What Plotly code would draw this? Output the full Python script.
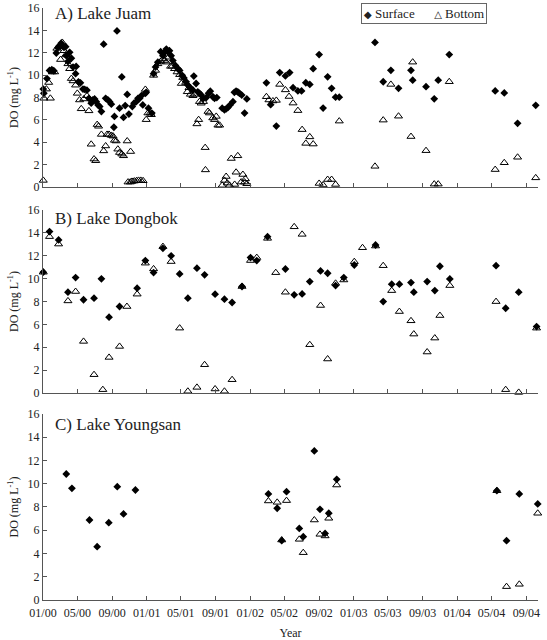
import plotly.graph_objects as go

# ---------------- DATA ----------------
juam_surf_date = [
    "2000-01-02","2000-01-04","2000-01-15","2000-01-24","2000-02-01","2000-02-08","2000-02-17","2000-02-23","2000-02-28",
    "2000-03-05","2000-03-09","2000-03-15","2000-03-21","2000-03-23","2000-03-29","2000-04-04","2000-04-10","2000-04-16",
    "2000-04-25","2000-04-27","2000-05-05","2000-05-12","2000-05-21","2000-05-27","2000-06-04","2000-06-11","2000-06-19",
    "2000-06-25","2000-07-01","2000-07-07","2000-07-13","2000-07-19","2000-07-25","2000-08-02","2000-08-09","2000-08-17",
    "2000-08-23","2000-08-29","2000-09-07","2000-09-09","2000-09-18","2000-09-27","2000-10-05","2000-10-11","2000-10-17",
    "2000-10-24","2000-10-30","2000-11-11","2000-11-17","2000-11-25","2000-12-01","2000-12-07","2000-12-13","2000-12-18",
    "2000-12-27","2000-12-30","2001-01-07","2001-01-19",
    "2001-01-25","2001-02-01","2001-02-09","2001-02-19","2001-02-27","2001-03-05","2001-03-11","2001-03-16","2001-03-22",
    "2001-03-28","2001-04-03","2001-04-12","2001-04-21","2001-04-27","2001-05-06","2001-05-12","2001-05-20","2001-05-26",
    "2001-06-04","2001-06-13","2001-06-16","2001-06-24","2001-06-30","2001-07-06","2001-07-12","2001-07-20","2001-07-30",
    "2001-08-07","2001-08-13","2001-08-22","2001-08-28","2001-09-05","2001-09-24","2001-10-02","2001-10-08","2001-10-14",
    "2001-10-22","2001-11-01","2001-11-06","2001-11-12","2001-11-18","2001-11-24","2001-12-02","2001-12-12","2001-12-20",
    "2002-02-27","2002-03-14","2002-04-03","2002-04-15","2002-05-05","2002-05-20","2002-06-01","2002-06-18","2002-07-01",
    "2002-07-16","2002-07-30","2002-08-11","2002-09-01","2002-09-15","2002-10-01","2002-10-15","2002-10-29","2002-11-11",
    "2003-03-17","2003-04-15","2003-05-12","2003-06-08","2003-07-22","2003-07-28","2003-09-13","2003-10-12","2003-10-26",
    "2003-12-04",
    "2004-05-14","2004-06-15","2004-08-01","2004-10-04",
]
juam_surf_do = [
    8.75,8.37,9.69,10.42,10.48,10.39,11.98,12.48,12.62,
    12.86,12.68,12.48,12.54,11.74,11.22,12.04,11.51,10.72,
    10.13,10.78,9.40,9.31,8.75,8.72,8.66,7.93,7.49,
    7.78,7.87,7.63,7.34,7.19,6.75,12.77,7.93,7.78,
    7.63,7.40,5.34,6.31,13.95,7.05,9.84,6.22,7.28,
    8.28,6.52,7.19,7.49,7.63,7.93,7.93,8.16,7.34,
    8.37,8.46,7.05,6.61,
    10.13,10.72,11.16,12.10,11.74,12.04,12.33,12.10,12.18,
    11.74,11.30,10.86,10.57,10.42,9.98,9.75,9.40,9.10,
    8.87,8.66,9.92,9.25,8.51,8.37,8.22,7.93,7.99,
    8.37,8.57,8.07,7.93,7.99,7.05,6.90,6.99,7.10,
    7.34,7.63,8.46,8.57,8.51,8.37,8.22,6.61,7.87,
    9.31,7.36,5.45,10.23,9.93,10.23,8.88,8.59,8.59,
    9.32,9.17,10.58,11.84,7.06,9.85,8.82,8.03,8.03,
    12.92,9.41,10.43,8.82,10.43,9.55,8.97,7.88,9.55,
    11.84,
    8.59,8.41,5.69,7.30,
]
juam_bot_date = [
    "2000-01-02","2000-01-04","2000-01-13","2000-01-21","2000-01-27","2000-02-03","2000-02-11","2000-02-19","2000-02-26",
    "2000-03-03","2000-03-09","2000-03-15","2000-03-21","2000-03-29","2000-04-04","2000-04-10","2000-04-16","2000-04-25",
    "2000-05-01","2000-05-09","2000-05-15","2000-05-24","2000-06-04","2000-06-11","2000-06-19","2000-06-29","2000-07-05",
    "2000-07-10","2000-07-15","2000-07-25","2000-08-02","2000-08-09","2000-08-14","2000-08-21","2000-08-29","2000-09-04",
    "2000-09-09","2000-09-15","2000-09-21","2000-09-27","2000-10-05","2000-10-11","2000-10-24","2000-11-05",
    "2000-10-27","2000-11-04","2000-11-10","2000-11-18","2000-11-26","2000-12-03","2000-12-11","2000-12-19",
    "2000-12-27","2000-12-30","2001-01-05","2001-01-13","2001-01-17",
    "2001-01-25","2001-02-01","2001-02-09","2001-02-19","2001-02-27","2001-03-05","2001-03-11","2001-03-19","2001-03-26",
    "2001-04-01","2001-04-09","2001-04-18","2001-04-27","2001-05-03","2001-05-08","2001-05-18","2001-05-24","2001-05-30",
    "2001-06-04","2001-06-13","2001-06-19","2001-06-27","2001-07-03","2001-07-06","2001-07-12","2001-07-20","2001-07-26",
    "2001-07-27","2001-08-05","2001-08-10","2001-08-22","2001-08-28","2001-09-03","2001-09-09","2001-09-15","2001-09-24",
    "2001-10-02","2001-10-08","2001-10-12","2001-10-20","2001-10-26","2001-11-07","2001-11-12","2001-11-18","2001-11-30",
    "2001-12-06","2001-12-12","2001-12-15","2001-12-20",
    "2002-02-27","2002-03-08","2002-03-22","2002-04-03","2002-04-15","2002-05-05","2002-05-18","2002-06-01","2002-06-18",
    "2002-07-03","2002-07-16","2002-07-30","2002-08-11","2002-09-01","2002-09-15","2002-10-01","2002-10-15","2002-10-29",
    "2002-11-11",
    "2003-03-17","2003-04-15","2003-05-12","2003-06-08","2003-07-22","2003-07-28","2003-09-13","2003-10-12","2003-10-26",
    "2003-12-04",
    "2004-05-14","2004-06-15","2004-08-01","2004-10-04",
]
juam_bot_do = [
    0.59,7.93,8.75,9.34,7.93,10.28,10.28,12.39,12.54,
    11.39,12.92,12.18,11.80,11.01,10.57,9.69,9.48,9.10,
    8.37,7.78,6.99,7.87,8.16,6.81,3.82,2.50,2.35,
    5.58,5.43,4.70,3.23,3.67,4.70,4.70,4.61,4.55,
    4.17,4.11,3.38,3.08,2.94,2.79,4.11,3.17,
    0.44,0.44,0.50,0.53,0.56,0.59,0.59,0.56,
    8.72,6.02,6.61,6.61,6.46,
    9.98,10.42,11.01,11.22,11.45,11.30,11.16,11.60,10.78,
    10.80,10.57,10.28,10.04,9.25,9.78,9.34,8.51,8.87,
    8.28,8.16,8.28,5.64,6.02,7.63,7.49,7.63,3.52,
    1.53,6.75,6.61,6.17,6.02,6.31,5.52,5.52,0.15,
    0.59,0.94,0.35,0.15,2.55,0.23,1.32,2.79,0.44,
    1.12,0.44,0.73,0.29,
    8.07,7.78,7.69,7.74,9.17,8.68,8.09,7.50,6.83,
    5.13,3.90,4.48,3.84,0.32,0.18,0.67,0.67,0.23,
    5.89,
    1.85,5.98,9.17,6.33,4.51,11.16,3.25,0.26,0.26,
    9.41,
    1.56,2.17,2.66,0.82,
]

dongbok_surf_date = [
    "2000-01-02","2000-01-24","2000-02-25","2000-03-29","2000-04-25","2000-05-23","2000-06-29","2000-07-25","2000-08-21",
    "2000-09-27","2000-11-28","2000-12-27","2001-01-25","2001-02-27","2001-03-28","2001-04-27","2001-05-26","2001-06-27",
    "2001-07-24","2001-08-30","2001-10-02","2001-10-29","2001-12-03","2002-01-02","2002-01-24","2002-03-03","2002-05-05",
    "2002-06-05","2002-07-03","2002-07-30","2002-09-06","2002-10-01","2002-10-29","2002-11-27","2003-01-03","2003-03-19",
    "2003-04-15","2003-05-15","2003-06-11","2003-07-22","2003-08-01","2003-09-17","2003-10-14","2003-11-01","2003-12-06",
    "2004-05-17","2004-06-20","2004-08-05","2004-10-07",
]
dongbok_surf_do = [
    10.56,14.11,13.38,8.81,10.09,8.15,8.29,9.98,6.63,
    7.56,9.16,11.58,10.53,12.65,11.99,10.41,8.29,10.91,
    10.33,8.64,8.20,7.91,9.31,11.84,11.58,13.67,10.84,
    8.58,8.66,9.74,10.67,10.47,9.39,10.09,11.19,12.94,
    7.99,9.51,9.51,9.65,8.81,9.74,8.95,11.08,9.97,
    11.13,7.41,8.81,5.81,
]
dongbok_bot_date = [
    "2000-01-02","2000-01-24","2000-02-25","2000-03-29","2000-04-25","2000-05-23","2000-06-29","2000-07-30","2000-08-21",
    "2000-09-27","2000-10-23","2000-11-28","2000-12-27","2001-01-25","2001-02-27","2001-03-28","2001-04-27","2001-05-26",
    "2001-06-27","2001-07-24","2001-08-30","2001-10-02","2001-10-29","2001-12-03","2002-01-02","2002-01-24","2002-03-03",
    "2002-04-01","2002-05-05","2002-06-05","2002-07-03","2002-07-30","2002-09-06","2002-10-01","2002-10-29","2002-11-27",
    "2003-01-03","2003-02-01","2003-03-19","2003-04-15","2003-05-15","2003-06-11","2003-07-22","2003-08-01","2003-09-17",
    "2003-10-14","2003-11-01","2003-12-06","2004-05-17","2004-06-20","2004-08-05","2004-10-07",
]
dongbok_bot_do = [
    10.56,13.67,13.02,8.05,8.87,4.51,1.60,0.29,3.11,
    4.07,7.56,8.64,11.35,10.85,12.80,11.49,5.67,0.15,
    0.49,2.47,0.35,0.15,1.16,9.31,11.58,11.84,13.52,
    10.52,8.81,14.53,13.87,4.22,7.65,2.97,9.59,9.88,
    11.48,12.70,12.85,11.13,8.95,7.12,6.31,5.15,3.58,
    4.80,6.77,9.39,7.99,0.29,0.05,5.67,
]

youngsan_surf_date = [
    "2000-03-23","2000-04-12","2000-06-13","2000-07-10","2000-08-20","2000-09-19","2000-10-11","2000-11-22",
    "2002-03-06","2002-04-06","2002-04-22","2002-05-09","2002-06-23","2002-07-07","2002-08-15","2002-09-04",
    "2002-09-22","2002-10-05","2002-11-02","2004-05-20","2004-06-23","2004-08-07","2004-10-11",
]
youngsan_surf_do = [
    10.84,9.61,6.88,4.59,6.65,9.75,7.40,9.46,
    9.12,7.89,5.10,9.32,6.16,5.45,12.82,7.80,
    5.73,7.46,10.38,9.40,5.10,9.12,8.26,
]
youngsan_bot_date = [
    "2002-03-06","2002-04-06","2002-04-22","2002-05-09","2002-06-23","2002-07-07","2002-08-15","2002-09-04",
    "2002-09-22","2002-10-05","2002-11-02","2004-05-20","2004-06-23","2004-08-07","2004-10-11",
]
youngsan_bot_do = [
    8.52,8.40,5.16,8.55,5.22,4.07,6.88,5.65,
    5.51,7.03,9.89,9.40,1.15,1.35,7.46,
]

panel_titles = ["A) Lake Juam", "B) Lake Dongbok", "C) Lake Youngsan"]
series_names = ["Surface", "Bottom"]
legend_glyphs = ["\u25c6", "\u25b3"]
y_ticks = [0, 2, 4, 6, 8, 10, 12, 14, 16]
x_range = ["2000-01-01", "2004-10-12"]

# ---------------- FIGURE ----------------
FONT = "Liberation Serif, DejaVu Serif, serif"
AX = "#555555"
TXT = "#222222"

panels = [
    (juam_surf_date, juam_surf_do, juam_bot_date, juam_bot_do),
    (dongbok_surf_date, dongbok_surf_do, dongbok_bot_date, dongbok_bot_do),
    (youngsan_surf_date, youngsan_surf_do, youngsan_bot_date, youngsan_bot_do),
]

fig = go.Figure()
for i, (sd, sv, bd, bv) in enumerate(panels):
    xa = "x" if i == 0 else f"x{i+1}"
    ya = "y" if i == 0 else f"y{i+1}"
    fig.add_trace(go.Scatter(
        x=sd, y=sv, mode="markers", name=series_names[0], xaxis=xa, yaxis=ya,
        marker=dict(symbol="diamond", size=6, color="black"),
        showlegend=False, cliponaxis=False))
    fig.add_trace(go.Scatter(
        x=bd, y=bv, mode="markers", name=series_names[1], xaxis=xa, yaxis=ya,
        marker=dict(symbol="triangle-up-open", size=7, color="black", line=dict(width=1)),
        showlegend=False, cliponaxis=False))

# domains in paper fraction (plot area 8..600 px of 640)
y_domains = [[0.6976, 1.0], [0.3497, 0.6588], [0.0, 0.3142]]

layout = dict(
    width=547, height=640,
    margin=dict(l=43, r=9, t=8, b=40, autoexpand=False),
    paper_bgcolor="white", plot_bgcolor="white",
    font=dict(family=FONT, size=12, color=TXT),
    showlegend=False,
)
for i in range(3):
    xk = "xaxis" if i == 0 else f"xaxis{i+1}"
    yk = "yaxis" if i == 0 else f"yaxis{i+1}"
    ya = "y" if i == 0 else f"y{i+1}"
    xa = "x" if i == 0 else f"x{i+1}"
    layout[xk] = dict(
        domain=[0, 1], anchor=ya, type="date", range=x_range, automargin=False,
        tick0="2000-01-01", dtick="M4", tickformat="%m/%y", ticklabeloverflow="allow",
        ticks="inside", ticklen=4, tickcolor=AX,
        showticklabels=(i == 2), showline=True, linecolor=AX, linewidth=1,
        showgrid=False, zeroline=False,
        tickfont=dict(family=FONT, size=12, color=TXT),
    )
    if i != 0:
        layout[xk]["matches"] = "x"
    layout[yk] = dict(
        domain=y_domains[i], anchor=xa, range=[0, 16], tickvals=y_ticks, automargin=False,
        ticklabeloverflow="allow",
        ticks="inside", ticklen=4, tickcolor=AX,
        showline=True, linecolor=AX, linewidth=1, showgrid=False, zeroline=False,
        tickfont=dict(family=FONT, size=12, color=TXT),
        title=dict(text="DO (mg L<sup>-1</sup>)", font=dict(family=FONT, size=12, color=TXT), standoff=6),
    )
layout["xaxis3"]["ticklabelstandoff"] = 2
layout["xaxis3"]["title"] = dict(text="Year", font=dict(family=FONT, size=12, color=TXT), standoff=11)

fig.update_layout(**layout)

title_y = [0.972, 0.951, 0.941]
for i, t in enumerate(panel_titles):
    xr = "x domain" if i == 0 else f"x{i+1} domain"
    yr = "y domain" if i == 0 else f"y{i+1} domain"
    fig.add_annotation(text=t, xref=xr, yref=yr, x=0.02, y=title_y[i], xanchor="left", yanchor="middle",
                       showarrow=False, font=dict(family=FONT, size=17, color=TXT))

# legend box (Surface / Bottom)
legend_text = (f"<span style='font-family:DejaVu Sans;font-size:10px'>{legend_glyphs[0]}</span> {series_names[0]}"
               f"&nbsp;&nbsp;&nbsp;&nbsp;&nbsp;&nbsp;"
               f"<span style='font-family:DejaVu Sans;font-size:10px'>{legend_glyphs[1]}</span> {series_names[1]}")
fig.add_annotation(text=legend_text, xref="paper", yref="paper", x=0.769, y=1.0,
                   xanchor="center", yanchor="middle", yshift=-5, showarrow=False,
                   font=dict(family=FONT, size=13, color=TXT),
                   bordercolor="#666", borderwidth=1, borderpad=2, bgcolor="white")

fig.write_html("out.html")
